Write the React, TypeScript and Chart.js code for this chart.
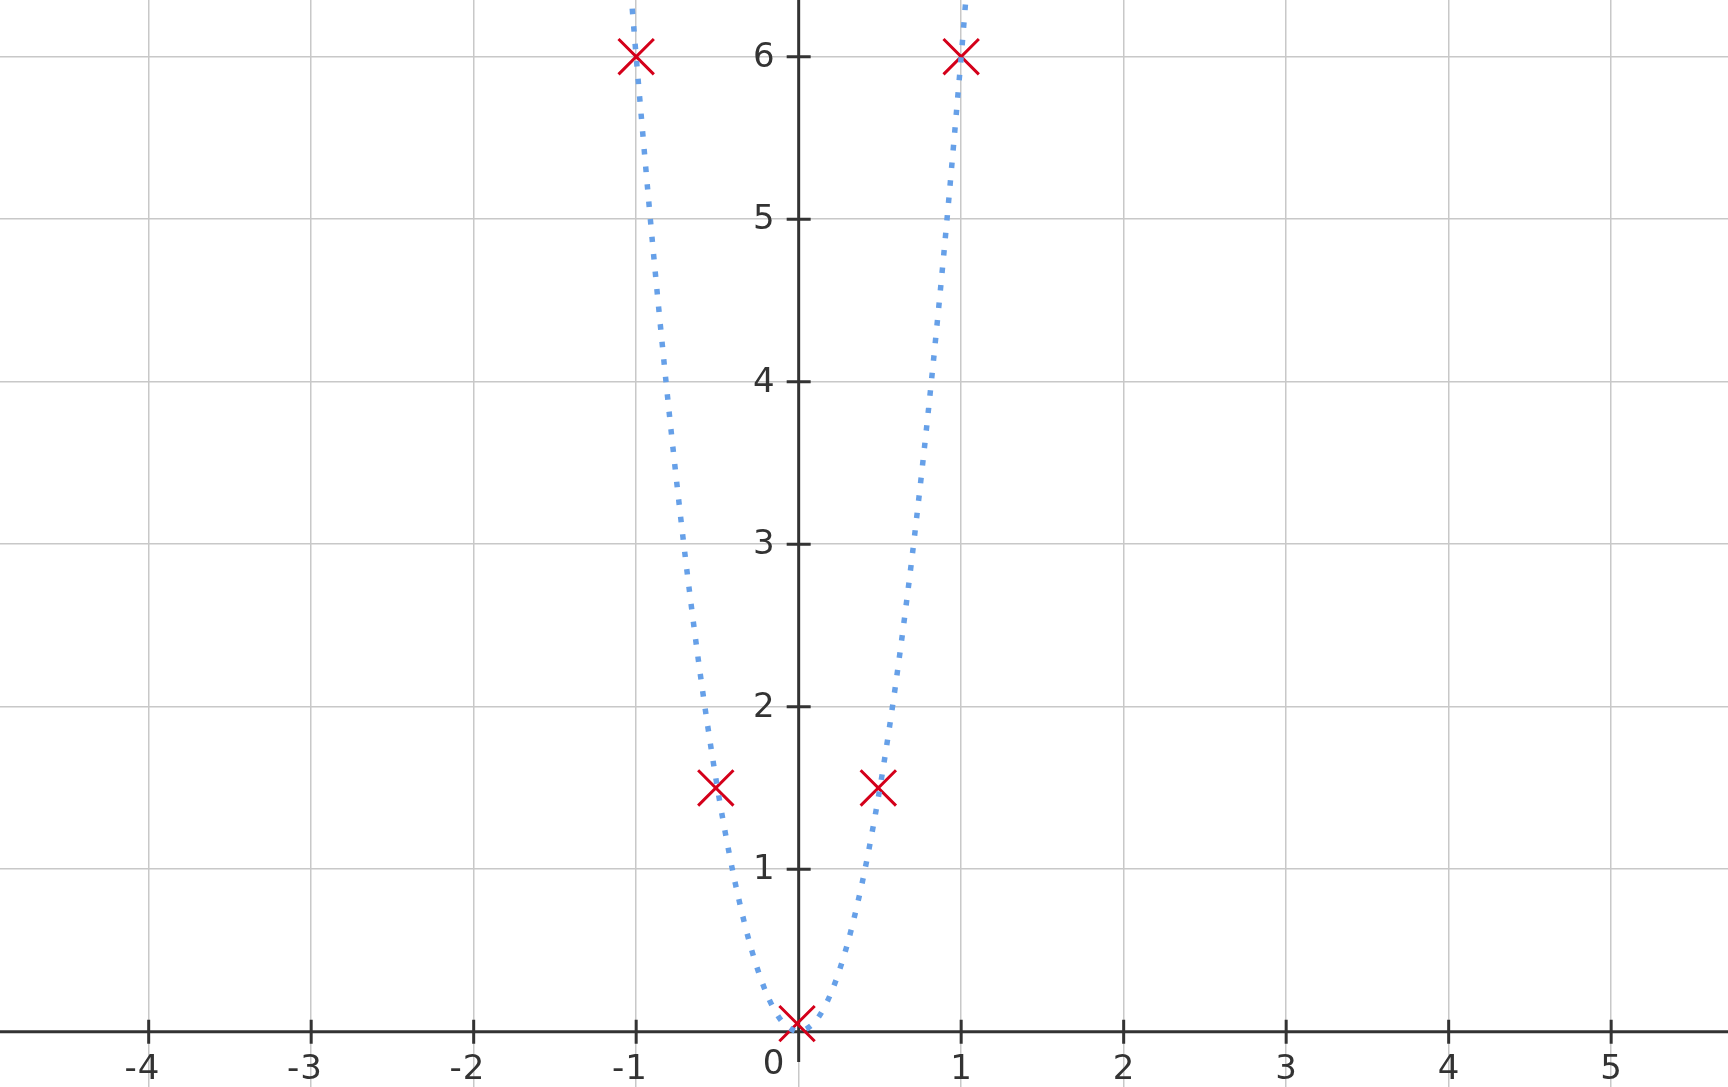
import React, { useEffect, useRef } from "react";
import { Chart, registerables } from "chart.js";

Chart.register(...registerables);

// Curve (x, y pairs)
const curveX = [-1.05, -1.0, -0.9, -0.8, -0.7, -0.6, -0.5, -0.4, -0.3, -0.2, -0.1, 0, 0.1, 0.2, 0.3, 0.4, 0.5, 0.6, 0.7, 0.8, 0.9, 1.0, 1.05];
const curveY = [6.62, 6.0, 4.86, 3.84, 2.94, 2.16, 1.5, 0.96, 0.54, 0.24, 0.06, 0, 0.06, 0.24, 0.54, 0.96, 1.5, 2.16, 2.94, 3.84, 4.86, 6.0, 6.62];

// Marker points
const markerX = [-1, -0.51, -0.01, 0.49, 1];
const markerY = [6, 1.5, 0.05, 1.5, 6];

// Axis ranges
const X_MIN = -4.915;
const X_MAX = 5.719;
const Y_MIN = -0.34;
const Y_MAX = 6.349;
const Y_AXIS_END = -0.186;
const ORIGIN_LABEL = "0";

const AXIS_COLOR = "#333333";
const LABEL_COLOR = "#333333";
const GRID_COLOR = "#c8c8c8";
const CURVE_COLOR = "rgb(102,160,232)";
const MARKER_COLOR = "#d4001a";
const FONT = '34px "DejaVu Sans"';

const axesPlugin = {
  id: "originAxes",
  beforeDatasetsDraw(chart: any) {
    const { ctx, chartArea } = chart;
    const xs = chart.scales.x;
    const ys = chart.scales.y;
    const x0 = xs.getPixelForValue(0);
    const y0 = ys.getPixelForValue(0);
    ctx.save();
    ctx.strokeStyle = AXIS_COLOR;
    ctx.lineWidth = 3;
    ctx.lineCap = "butt";
    ctx.beginPath();
    ctx.moveTo(chartArea.left, y0);
    ctx.lineTo(chartArea.right, y0);
    ctx.moveTo(x0, chartArea.top);
    ctx.lineTo(x0, ys.getPixelForValue(Y_AXIS_END));
    for (const t of xs.ticks) {
      if (t.value === 0) continue;
      const px = xs.getPixelForValue(t.value);
      ctx.moveTo(px, y0 - 12);
      ctx.lineTo(px, y0 + 12);
    }
    for (const t of ys.ticks) {
      if (t.value === 0) continue;
      const py = ys.getPixelForValue(t.value);
      ctx.moveTo(x0 - 12, py);
      ctx.lineTo(x0 + 12, py);
    }
    ctx.stroke();

    ctx.fillStyle = LABEL_COLOR;
    ctx.font = FONT;
    ctx.textBaseline = "alphabetic";
    for (const t of xs.ticks) {
      if (t.value === 0) continue;
      const px = xs.getPixelForValue(t.value);
      const digits = String(Math.abs(t.value));
      const w = ctx.measureText(digits).width;
      ctx.textAlign = "center";
      ctx.fillText(digits, px, y0 + 47);
      if (t.value < 0) {
        ctx.textAlign = "right";
        ctx.fillText("-", px - w / 2 - 1, y0 + 47);
      }
    }
    ctx.textAlign = "right";
    for (const t of ys.ticks) {
      if (t.value === 0) continue;
      const py = ys.getPixelForValue(t.value);
      ctx.fillText(String(t.value), x0 - 24, py + 10);
    }
    ctx.textAlign = "center";
    ctx.fillText(ORIGIN_LABEL, x0 - 25, y0 + 42);
    ctx.restore();
  },
};

export default function App() {
  const ref = useRef<HTMLCanvasElement | null>(null);
  useEffect(() => {
    if (!ref.current) return;
    const chart = new Chart(ref.current, {
      type: "scatter",
      data: {
        datasets: [
          {
            label: "curve",
            data: curveX.map((x, i) => ({ x, y: curveY[i] })),
            showLine: true,
            borderColor: CURVE_COLOR,
            borderWidth: 5.5,
            borderDash: [5.5, 12.1],
            borderCapStyle: "butt",
            tension: 0.3,
            pointRadius: 0,
            pointHoverRadius: 0,
            fill: false,
            order: 0,
          } as any,
          {
            label: "points",
            data: markerX.map((x, i) => ({ x, y: markerY[i] })),
            showLine: false,
            pointStyle: "crossRot",
            pointRadius: 25,
            pointBorderWidth: 3,
            borderColor: MARKER_COLOR,
            backgroundColor: MARKER_COLOR,
            pointBorderColor: MARKER_COLOR,
            order: 1,
          } as any,
        ],
      },
      options: {
        animation: false,
        responsive: false,
        maintainAspectRatio: false,
        layout: { padding: 0, autoPadding: false },
        plugins: { legend: { display: false }, tooltip: { enabled: false } },
        events: [],
        scales: {
          x: {
            type: "linear",
            min: X_MIN,
            max: X_MAX,
            ticks: { display: false, stepSize: 1, includeBounds: false },
            grid: { color: GRID_COLOR, lineWidth: 1.5, drawTicks: false },
            border: { display: false },
          },
          y: {
            type: "linear",
            min: Y_MIN,
            max: Y_MAX,
            ticks: { display: false, stepSize: 1, includeBounds: false },
            grid: { color: GRID_COLOR, lineWidth: 1.5, drawTicks: false },
            border: { display: false },
          },
        },
      },
      plugins: [axesPlugin],
    });
    return () => chart.destroy();
  }, []);
  return (
    <canvas
      ref={ref}
      width={1728}
      height={1087}
      style={{ position: "absolute", left: 0, top: 0, display: "block", width: 1728, height: 1087 }}
    />
  );
}
